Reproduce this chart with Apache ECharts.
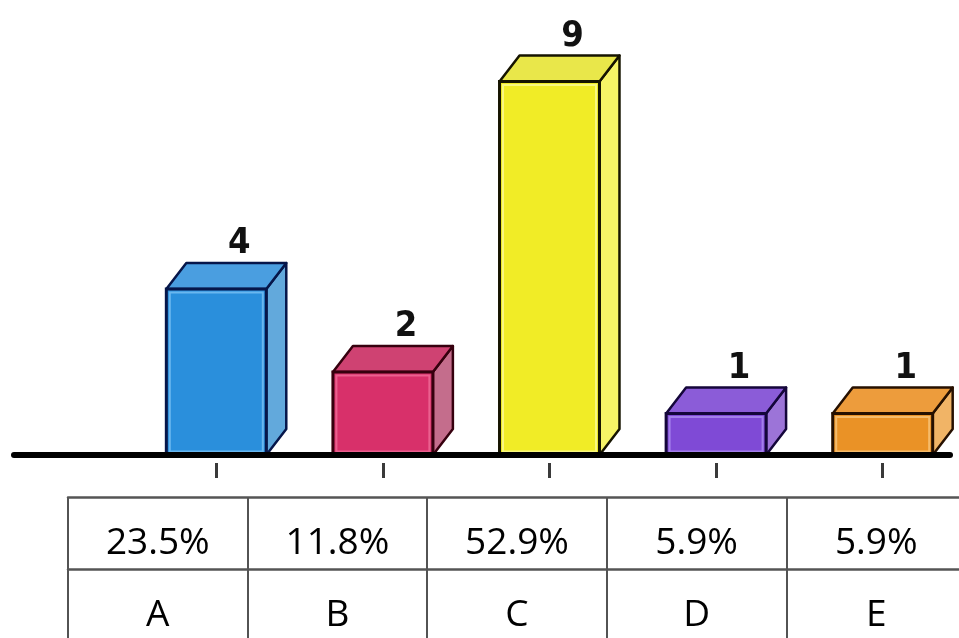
<!DOCTYPE html>
<html>
<head>
<meta charset="utf-8">
<title>Answer distribution</title>
<script src="https://cdn.jsdelivr.net/npm/echarts@6/dist/echarts.min.js"></script>
<style>
  html, body { margin: 0; padding: 0; background: #ffffff; }
  #chart { width: 959px; height: 638px; }
</style>
</head>
<body>
<div id="chart"></div>
<script>
// Answer options, vote counts and the share of each option
const categories = ['A', 'B', 'C', 'D', 'E'];
const counts = [4, 2, 9, 1, 1];
const shares = ['23.5%', '11.8%', '52.9%', '5.9%', '5.9%'];

// Box colours per option: front, top, side, outline, inner highlight
const boxColors = [
  { front: '#2a8fdc', top: '#4a9ee0', side: '#62a9dc', edge: '#06164a', glow: '#79c0f4' },
  { front: '#d8306a', top: '#cf4272', side: '#c46d8c', edge: '#36000e', glow: '#f06d98' },
  { front: '#f1ec26', top: '#e9e74a', side: '#f6f466', edge: '#161400', glow: '#fcfb96' },
  { front: '#7f4ad6', top: '#8b5cd8', side: '#9c74d8', edge: '#14063a', glow: '#ad8cf0' },
  { front: '#ea9226', top: '#ed9c3c', side: '#f1b466', edge: '#261000', glow: '#f9c67c' }
];

const DEPTH_X = 20;
const DEPTH_Y = 26;

function renderBox(params, api) {
  const i = api.value(0);
  const v = api.value(1);
  const topPt = api.coord([i, v]);
  const basePt = api.coord([i, 0]);
  const bw = api.size([1, 0])[0] * 0.6;
  const x0 = topPt[0] - bw / 2;
  const x1 = topPt[0] + bw / 2;
  const y0 = topPt[1];
  const y1 = basePt[1];
  const c = boxColors[i];
  return {
    type: 'group',
    children: [
      {
        type: 'polygon',
        shape: { points: [[x1, y0], [x1 + DEPTH_X, y0 - DEPTH_Y], [x1 + DEPTH_X, y1 - DEPTH_Y], [x1, y1]] },
        style: { fill: c.side, stroke: c.edge, lineWidth: 2.5, lineJoin: 'round' }
      },
      {
        type: 'polygon',
        shape: { points: [[x0, y0], [x0 + DEPTH_X, y0 - DEPTH_Y], [x1 + DEPTH_X, y0 - DEPTH_Y], [x1, y0]] },
        style: { fill: c.top, stroke: c.edge, lineWidth: 2.5, lineJoin: 'round' }
      },
      {
        type: 'rect',
        shape: { x: x0, y: y0, width: bw, height: y1 - y0 },
        style: { fill: c.front, stroke: c.edge, lineWidth: 3 }
      },
      {
        type: 'rect',
        shape: { x: x0 + 3.5, y: y0 + 3.5, width: bw - 7, height: Math.max(0, y1 - y0 - 7) },
        style: { fill: null, stroke: c.glow, lineWidth: 2, opacity: 0.8 }
      },
      {
        type: 'text',
        style: {
          text: String(v),
          x: topPt[0] + DEPTH_X + 3,
          y: y0 - DEPTH_Y - 1,
          align: 'center',
          verticalAlign: 'bottom',
          fill: '#111111',
          font: 'bold 36px "Liberation Sans Narrow", "DejaVu Sans Condensed", sans-serif'
        }
      }
    ]
  };
}

const cellFont = '"Open Sans", "Noto Sans", sans-serif';

const chart = echarts.init(document.getElementById('chart'), null, { renderer: 'canvas' });
chart.setOption({
  backgroundColor: '#ffffff',
  animation: false,
  grid: [
    // long baseline under the boxes
    { left: 14, width: 936, top: 40, bottom: 183, outerBoundsMode: 'none' },
    // the boxes themselves
    { left: 133, width: 833, top: 40, bottom: 183, outerBoundsMode: 'none' },
    // share row of the table
    { left: 68, width: 898, top: 497, height: 72, outerBoundsMode: 'none' },
    // option-letter row of the table
    { left: 68, width: 898, top: 569, height: 120, outerBoundsMode: 'none' }
  ],
  xAxis: [
    {
      gridIndex: 0, type: 'category', data: categories, z: 10,
      axisLine: { show: true, lineStyle: { color: '#000000', width: 6 } },
      axisTick: { show: false }, axisLabel: { show: false }, splitLine: { show: false }
    },
    {
      gridIndex: 1, type: 'category', data: categories, offset: 8,
      axisLine: { show: false, onZero: false },
      axisTick: { show: true, alignWithLabel: true, length: 15, lineStyle: { color: '#3a3a3a', width: 3 } },
      axisLabel: { show: false }, splitLine: { show: false }
    },
    {
      gridIndex: 2, type: 'category', data: categories, position: 'top',
      axisLine: { show: true, onZero: false, lineStyle: { color: '#555555', width: 2.5 } },
      axisTick: { show: false },
      splitLine: { show: true, interval: 0, lineStyle: { color: '#1a1a1a', width: 1.5 } },
      axisLabel: {
        show: true, inside: true, interval: 0, margin: 46, verticalAlign: 'middle',
        formatter: (val, idx) => shares[idx],
        color: '#000000', fontSize: 37, fontFamily: cellFont
      }
    },
    {
      gridIndex: 3, type: 'category', data: categories, position: 'top',
      axisLine: { show: true, onZero: false, lineStyle: { color: '#555555', width: 2.5 } },
      axisTick: { show: false },
      splitLine: { show: true, interval: 0, lineStyle: { color: '#1a1a1a', width: 1.5 } },
      axisLabel: {
        show: true, inside: true, interval: 0, margin: 46, verticalAlign: 'middle',
        color: '#000000', fontSize: 37, fontFamily: cellFont
      }
    }
  ],
  yAxis: [
    { gridIndex: 0, type: 'value', min: 0, max: 10, show: false },
    { gridIndex: 1, type: 'value', min: 0, max: 10, show: false },
    { gridIndex: 2, type: 'value', min: 0, max: 1, show: false },
    { gridIndex: 3, type: 'value', min: 0, max: 1, show: false }
  ],
  series: [
    {
      type: 'custom',
      xAxisIndex: 1,
      yAxisIndex: 1,
      clip: false,
      renderItem: renderBox,
      data: counts.map((v, i) => [i, v])
    }
  ]
});
</script>
</body>
</html>
